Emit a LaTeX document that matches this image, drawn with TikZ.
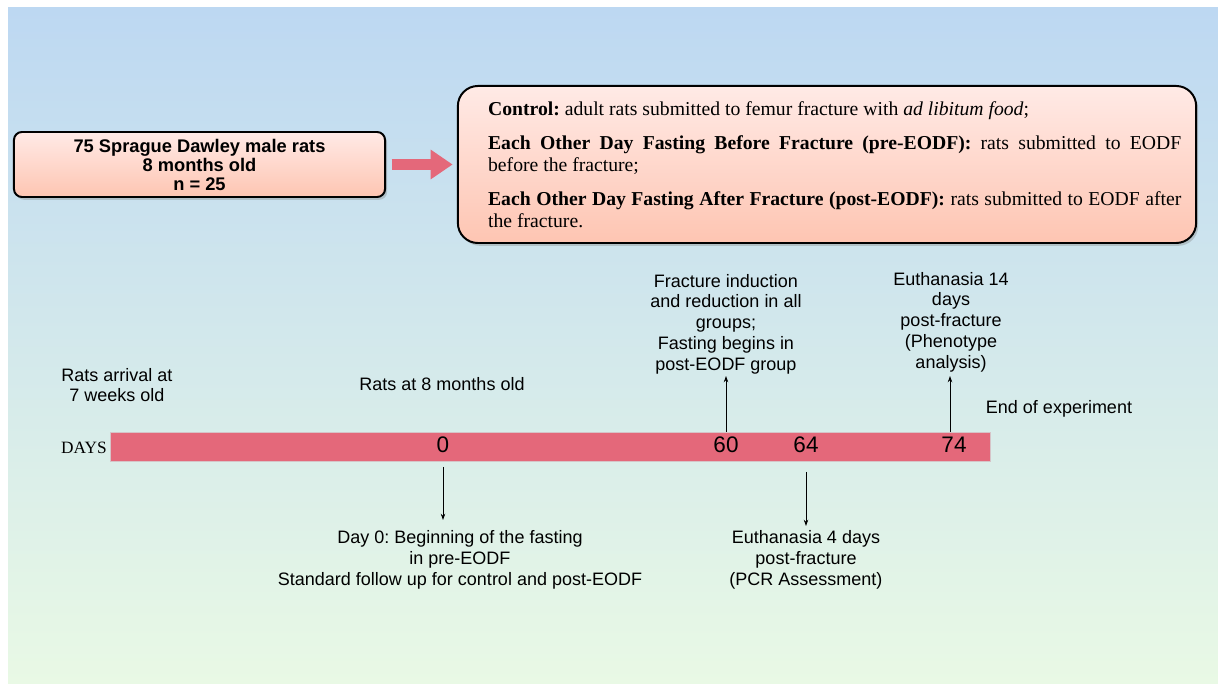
\documentclass[tikz,border=0pt]{standalone}
\usepackage{fontspec}
\setmainfont{Liberation Sans}
\newfontfamily\timesbox{Liberation Serif}
\usepackage{tikz}
\usetikzlibrary{arrows.meta,positioning,shadows}
\definecolor{SkyTop}{RGB}{189,216,242}
\definecolor{SkyMid}{RGB}{211,232,237}
\definecolor{MintBottom}{RGB}{233,249,229}
\definecolor{BoxTop}{RGB}{255,234,230}
\definecolor{BoxBottom}{RGB}{254,197,178}
\definecolor{BarRose}{RGB}{228,104,122}
\definecolor{BarEdge}{RGB}{214,196,200}
\frenchspacing

\begin{document}
\begin{tikzpicture}[x=0.025cm,y=0.025cm,>={Stealth[length=4.5pt,width=3.2pt]},
  pinkbox/.style={draw=black,line width=1.4pt,top color=BoxTop,bottom color=BoxBottom,
    drop shadow={shadow xshift=1.5pt,shadow yshift=-2pt,opacity=0.35}},
  lbl/.style={align=center,inner sep=0pt,font=\fontsize{12.8}{14.8}\selectfont},
  daynum/.style={inner sep=0pt,font=\fontsize{16}{18}\selectfont},
  tick/.style={->,line width=0.6pt}]
  \useasboundingbox (0,0) rectangle (1218,684);
  \shade[top color=SkyTop,middle color=SkyMid,bottom color=MintBottom]
    (8,0) rectangle (1218,676);

  % groups
  \node[pinkbox,rounded corners=0.2cm,minimum width=9.275cm,minimum height=1.625cm,
    align=center,font=\bfseries\fontsize{13}{13.5}\selectfont] (rats) at (199.5,519.5)
    {75 Sprague Dawley male rats\\8 months old\\n = 25};
  \node[pinkbox,rounded corners=0.5cm,minimum height=3.925cm,text width=504pt,
    inner xsep=10.5pt,align=justify,font=\timesbox\fontsize{14}{15.3}\selectfont]
    (groups) at (827,519.5)
    {\leftskip=11pt\parindent=0pt\parskip=9.2pt\hyphenpenalty=10000
     \textbf{Control:} adult rats submitted to femur fracture with \textit{ad libitum food};\par
     \textbf{Each Other Day Fasting Before Fracture (pre-EODF):} rats submitted to EODF
     \linebreak before the fracture;\par
     \textbf{Each Other Day Fasting After Fracture (post-EODF):} rats submitted to EODF
     after the fracture.\par};
  \draw[BarRose,line width=8.5pt,-{Triangle[length=15.6pt,width=20pt]},
    shorten <=4pt,shorten >=3pt] (rats) -- (groups);

  % timeline
  \node[fill=BarRose,draw=BarEdge,line width=0.4pt,minimum width=22cm,
    minimum height=0.725cm,inner sep=0pt] (bar) at (550,237.5) {};
  \node[inner sep=0pt,font=\timesbox\fontsize{12.3}{15}\selectfont] (days)
    at (84,236) {DAYS};
  \foreach \d/\x in {0/443,60/726,64/806,74/954}
    \node[daynum] (n\d) at (\x,239) {\d};

  \node[lbl] (arrive) at (117,299) {Rats arrival at\\7 weeks old};
  \node[lbl] (eight) at (442,300) {Rats at 8 months old};
  \node[lbl] (fract) at (726,360)
    {Fracture induction\\and reduction in all\\groups;\\Fasting begins in\\post-EODF group};
  \node[lbl] (euth14) at (951,362)
    {Euthanasia 14\\days\\post-fracture\\(Phenotype\\analysis)};
  \node[lbl] (finish) at (1059,275) {End of experiment};
  \node[lbl] (day0) at (460,124)
    {Day 0: Beginning of the fasting\\in pre-EODF\\Standard follow up for control and post-EODF};
  \node[lbl] (euth4) at (806,124)
    {Euthanasia 4 days\\post-fracture\\(PCR Assessment)};

  \coordinate (up60) at (726,308);
  \coordinate (up74) at (950,308);
  \coordinate (dn0) at (443,164);
  \coordinate (dn64) at (806,158);
  \draw[tick] (bar.north -| up60) -- (up60);
  \draw[tick] (bar.north -| up74) -- (up74);
  \draw[tick,shorten <=4pt] (bar.south -| dn0) -- (dn0);
  \draw[tick,shorten <=7.5pt] (bar.south -| dn64) -- (dn64);
\end{tikzpicture}
\end{document}
